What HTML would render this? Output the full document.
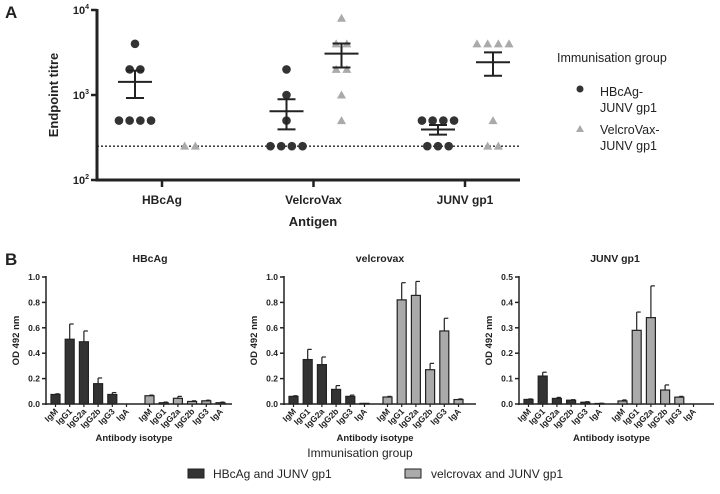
<!DOCTYPE html>
<html><head><meta charset="utf-8"><style>
body{margin:0;background:#fff}
svg{display:block;font-family:"Liberation Sans",Arial,sans-serif}
</style></head><body>
<svg id="s" width="720" height="494" viewBox="0 0 720 494"></svg>
<script>
// Panel A data
const antigens=['HBcAg','VelcroVax','JUNV gp1'];
const circleVals=[[4000,2000,2000,500,500,500,500],[2000,1000,500,250,250,250,250],[500,500,500,500,250,250,250]];
const triVals=[[250,250],[8000,4000,4000,2000,2000,1000,500],[4000,4000,4000,4000,500,250,250]];
const triShowMean=[false,true,true];
const aTicks=[2,3,4];
const cutoff=250;
// Panel B data
const isotypes=['IgM','IgG1','IgG2a','IgG2b','IgG3','IgA'];
const panelTitles=['HBcAg','velcrovax','JUNV gp1'];
const panelMax=[1.0,1.0,0.5];
const panelTicks=[[0,0.2,0.4,0.6,0.8,1.0],[0,0.2,0.4,0.6,0.8,1.0],[0,0.1,0.2,0.3,0.4,0.5]];
const blackVals=[[0.075,0.51,0.49,0.16,0.075,0],[0.06,0.35,0.31,0.115,0.06,0.005],[0.018,0.11,0.022,0.015,0.007,0.002]];
const blackErr=[[0.08,0.63,0.575,0.205,0.09,0],[0.065,0.43,0.37,0.145,0.07,0.005],[0.02,0.125,0.026,0.017,0.009,0.003]];
const greyVals=[[0.065,0.01,0.045,0.02,0.025,0.01],[0.055,0.82,0.855,0.27,0.575,0.035],[0.012,0.29,0.34,0.055,0.027,0]];
const greyErr=[[0.07,0.015,0.06,0.025,0.03,0.015],[0.06,0.955,0.965,0.32,0.675,0.04],[0.016,0.362,0.465,0.075,0.03,0]];

const S=document.getElementById('s');const NS='http://www.w3.org/2000/svg';
function mk(t,a,txt,p){const e=document.createElementNS(NS,t);for(const k in a)e.setAttribute(k,a[k]);if(txt!=null)e.textContent=txt;(p||S).appendChild(e);return e;}
function T(x,y,s,o,name){o=o||{};const e=mk('text',Object.assign({x:x,y:y,'font-size':o.fs||11,'font-weight':o.fw||'bold','text-anchor':o.a||'middle',fill:'#222'},o.ex||{}),s);

return e;}
function L(x1,y1,x2,y2,w,c,ex){const e=mk('line',Object.assign({x1:x1,y1:y1,x2:x2,y2:y2,stroke:c||'#222','stroke-width':w||1},ex||{}));

return e;}

// ---- Panel A
T(5,18,'A',{fs:17,a:'start'},'panel-a-label');
const ax0=97,ax1=520,yTop=10,yBot=180;
const ya=v=>yBot-(Math.log10(v)-2)/2*(yBot-yTop);
const catX=i=>162+i*151.5;
L(ax0,yTop-1,ax0,yBot+1.5,3);L(ax0-1.5,yBot,ax1,yBot,3);
aTicks.forEach(p=>{const y=ya(Math.pow(10,p));L(ax0-6,y,ax0,y,2.5);
 const t=T(89,y+4,'10',{fs:11,a:'end'},'y-tick-label');mk('tspan',{dy:-5,'font-size':7},String(p),t);});
antigens.forEach((a,i)=>{L(catX(i),yBot,catX(i),yBot+7,2.5);T(catX(i),204,a,{fs:12},'x-tick-label');});
T(313,226,'Antigen',{fs:13},'x-axis-title');
T(0,0,'Endpoint titre',{fs:13,ex:{transform:'translate(58,95) rotate(-90)'}},'y-axis-title');
L(ax0,ya(cutoff),ax1,ya(cutoff),1.3,'#222',{'stroke-dasharray':'2,2'});
function swarm(vals,cx,kind,col){
 const counts={};vals.forEach(v=>counts[v]=(counts[v]||0)+1);const seen={};
 vals.forEach(v=>{const n=counts[v];const k=seen[v]=(seen[v]||0);seen[v]++;const x=cx+(k-(n-1)/2)*10.7,y=ya(v);
  let e;if(kind==='c')e=mk('circle',{cx:x,cy:y,r:4.3,fill:col});
  else e=mk('polygon',{points:`${x},${y-4.5} ${x+4.5},${y+3.5} ${x-4.5},${y+3.5}`,fill:col});
  
  });
}
function meanSem(vals,cx){const n=vals.length,m=vals.reduce((a,b)=>a+b,0)/n;
 const sd=Math.sqrt(vals.reduce((a,b)=>a+(b-m)*(b-m),0)/(n-1));const se=sd/Math.sqrt(n);
 L(cx-17,ya(m),cx+17,ya(m),2);L(cx,ya(m+se),cx,ya(Math.max(m-se,1)),2);
 L(cx-9,ya(m+se),cx+9,ya(m+se),2);L(cx-9,ya(m-se),cx+9,ya(m-se),2);}
antigens.forEach((a,i)=>{const c1=catX(i)-27,c2=catX(i)+28;
 swarm(circleVals[i],c1,'c','#333');meanSem(circleVals[i],c1);
 swarm(triVals[i],c2,'t','#aaa');if(triShowMean[i])meanSem(triVals[i],c2);});
T(557,62,'Immunisation group',{fs:12.5,fw:'normal',a:'start'},'legend-title');
let lc=mk('circle',{cx:580,cy:89,r:3.5,fill:'#333'});
T(600,96,'HBcAg-',{fs:12.5,fw:'normal',a:'start'},'legend-entry');T(600,112,'JUNV gp1',{fs:12.5,fw:'normal',a:'start'},'legend-entry');
let lt=mk('polygon',{points:'580,125 584,132 576,132',fill:'#aaa'});
T(600,134,'VelcroVax-',{fs:12.5,fw:'normal',a:'start'},'legend-entry');T(600,150,'JUNV gp1',{fs:12.5,fw:'normal',a:'start'},'legend-entry');

// ---- Panel B
T(5,265,'B',{fs:17,a:'start'},'panel-b-label');
const axX=[46,284,519],axW=[186,192,195],titleX=[150,380,615];
const yb0=404,yb1=277;
panelTitles.forEach((pt,p)=>{
 const x0=axX[p],mx=panelMax[p];const yv=v=>yb0-v/mx*(yb0-yb1);
 T(titleX[p],262,pt,{fs:10.5},'panel-title');
 L(x0,yb1-1,x0,yb0+1,1.5);L(x0-1,yb0,x0+axW[p],yb0,1.5);
 panelTicks[p].forEach(v=>{L(x0-4,yv(v),x0,yv(v),1.5);T(x0-6,yv(v)+3,v.toFixed(1),{fs:8.5,a:'end'},'y-tick-label');});
 T(0,0,'OD 492 nm',{fs:9.5,ex:{transform:`translate(${x0-27},${(yb0+yb1)/2}) rotate(-90)`}},'y-axis-title');
 const bx=(g,i)=>x0+5+g*94+i*14.2;
 [[blackVals,blackErr,'#333'],[greyVals,greyErr,'#aaa']].forEach(([vals,errs,col],g)=>{
  isotypes.forEach((iso,i)=>{const cx=bx(g,i)+4.5,v=vals[p][i],e=errs[p][i];
   if(e>v){L(cx,yv(e),cx,yv(v),1.2);L(cx,yv(e),cx+4,yv(e),1.2);}
   const r=mk('rect',{x:bx(g,i),y:yv(v),width:9,height:Math.max(yb0-yv(v),0),fill:col,stroke:'#222','stroke-width':1.2});
   
   
   L(cx,yb0,cx,yb0+3,1.2);
   T(0,0,iso,{fs:8.5,a:'end',ex:{transform:`translate(${cx+3},${yb0+8}) rotate(-45)`}},'x-tick-label');
  });});
 T(x0+axW[p]/2-5,441,'Antibody isotype',{fs:9.5},'x-axis-title');
});
T(360,457,'Immunisation group',{fs:12,fw:'normal'},'legend-title-b');
let r1=mk('rect',{x:188,y:469,width:16,height:9,fill:'#333',stroke:'#222'});
T(213,478,'HBcAg and JUNV gp1',{fs:12,fw:'normal',a:'start'},'legend-entry');
let r2=mk('rect',{x:405,y:469,width:16,height:9,fill:'#aaa',stroke:'#222'});
T(431,478,'velcrovax and JUNV gp1',{fs:12,fw:'normal',a:'start'},'legend-entry');
</script>
</body></html>
